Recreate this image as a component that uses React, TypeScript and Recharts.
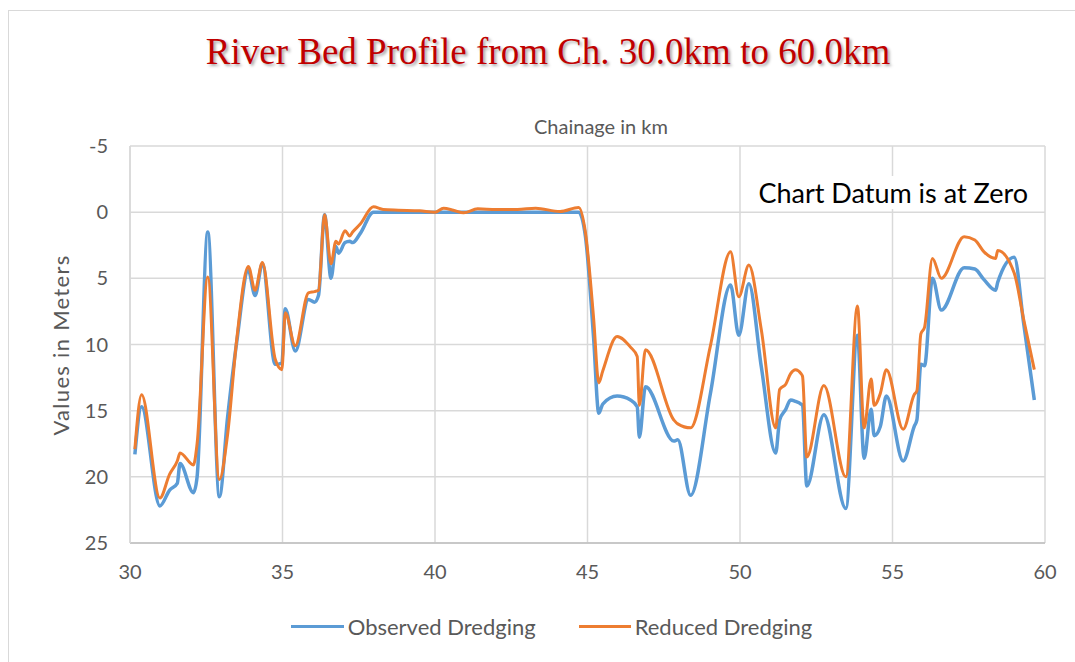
import React from "react";
import { LineChart, Line, XAxis, YAxis, CartesianGrid } from "recharts";

const chainage = [
  30.16, 30.38, 30.98, 31.3, 31.55, 31.64, 32.08, 32.2, 32.55, 32.93, 33.2, 33.5, 33.88, 34.1, 34.34,
  34.76, 34.98, 35.09, 35.42, 35.85, 36.05, 36.18, 36.38, 36.59, 36.75, 36.84, 37.05, 37.2, 37.3, 37.55,
  37.98, 38.3, 38.8, 39.5, 40.0, 40.28, 40.6, 40.94, 41.4, 42.0, 42.7, 43.3, 44.1, 44.71, 44.93,
  45.2, 45.37, 45.5, 45.97, 46.41, 46.63, 46.7, 46.9, 47.83, 47.96, 48.38, 49.03, 49.69, 49.96, 50.29,
  50.7, 51.17, 51.3, 51.5, 51.66, 51.82, 52.0, 52.05, 52.19, 52.75, 53.47, 53.85, 54.07, 54.3, 54.4,
  54.6, 54.8, 55.35, 55.71, 55.8, 55.93, 56.05, 56.31, 56.6, 57.35, 57.7, 58.0, 58.38, 58.45, 58.99,
  59.3, 59.65,
];

const observedDredging = [
  18.3, 14.7, 22.2, 21.0, 20.5, 19.0, 21.2, 20.0, 1.5, 21.5, 15.5, 9.8, 4.4, 6.3, 3.9,
  11.5, 11.4, 7.3, 10.5, 6.6, 6.8, 6.3, 0.2, 5.0, 2.6, 3.1, 2.3, 2.2, 2.3, 1.6,
  0.0, 0.0, 0.0, 0.0, 0.0, 0.0, 0.0, 0.0, 0.0, 0.0, 0.0, 0.0, 0.0, 0.0, 1.8,
  9.5, 15.2, 14.5, 13.9, 14.2, 14.7, 17.0, 13.2, 17.3, 17.2, 21.4, 13.7, 5.5, 9.3, 5.4,
  11.7, 18.2, 15.7, 14.9, 14.2, 14.3, 14.5, 14.6, 20.7, 15.3, 22.4, 9.3, 18.6, 14.9, 16.9,
  16.2, 13.9, 18.8, 16.2, 15.7, 11.5, 11.6, 5.0, 7.4, 4.2, 4.3, 5.1, 5.9, 5.3, 3.4,
  8.4, 14.2,
];

const reducedDredging = [
  17.9, 13.8, 21.6, 19.8, 18.8, 18.2, 19.1, 17.5, 4.9, 20.2, 16.8, 9.6, 4.1, 5.9, 3.8,
  11.1, 11.9, 7.6, 10.1, 6.1, 6.0, 5.9, 0.2, 3.9, 2.2, 2.4, 1.4, 1.8, 1.5, 0.9,
  -0.4, -0.2, -0.15, -0.1, 0.0, -0.3, -0.15, 0.05, -0.25, -0.2, -0.2, -0.3, -0.05, -0.35, 1.5,
  8.0, 12.9, 12.0, 9.4, 10.2, 10.9, 14.6, 10.4, 15.7, 16.0, 16.3, 10.1, 3.0, 6.4, 4.0,
  8.9, 16.3, 13.4, 13.0, 12.2, 11.9, 12.2, 12.4, 18.5, 13.1, 20.0, 7.1, 16.3, 12.6, 14.6,
  13.7, 11.9, 16.4, 13.8, 13.5, 9.2, 8.7, 3.5, 5.0, 1.85, 2.1, 3.0, 3.5, 2.9, 4.6,
  8.1, 11.9,
];

const xTicks = [30, 35, 40, 45, 50, 55, 60];
const yTicks = [-5, 0, 5, 10, 15, 20, 25];

const data = chainage.map((x, i) => ({
  x,
  observed: observedDredging[i],
  reduced: reducedDredging[i],
}));

const FONT = "Lato, 'Open Sans', sans-serif";
const GRAY = "#595959";

export default function App() {
  return (
    <div style={{ position: "fixed", left: 0, top: 0, width: 1075, height: 662, background: "#fff", overflow: "hidden" }}>
      <div style={{ position: "absolute", left: 8, top: 10, width: 1100, height: 700, border: "1px solid #D9D9D9", boxSizing: "border-box" }} />
      <div
        style={{
          position: "absolute",
          left: 0,
          width: 1096,
          top: 30,
          textAlign: "center",
          fontFamily: "'Liberation Serif', 'Times New Roman', serif",
          fontSize: 37,
          color: "#C00000",
          textShadow: "2px 2px 3px rgba(0,0,0,0.35)",
          whiteSpace: "nowrap",
        }}
      >
        River Bed Profile from Ch. 30.0km to 60.0km
      </div>
      <div
        style={{
          position: "absolute",
          left: 0,
          width: 1202,
          top: 114,
          textAlign: "center",
          fontFamily: FONT,
          fontSize: 20,
          color: GRAY,
          whiteSpace: "nowrap",
        }}
      >
        Chainage in km
      </div>
      <div style={{ position: "absolute", left: 0, top: 0 }}>
        <LineChart width={1075} height={662} data={data} margin={{ top: 146, right: 30, bottom: 89, left: 70 }}>
          <CartesianGrid stroke="#D9D9D9" strokeWidth={1.5} />
          <XAxis
            dataKey="x"
            type="number"
            domain={[30, 60]}
            ticks={xTicks}
            allowDataOverflow
            tickLine={false}
            tickSize={0}
            tickMargin={22}
            axisLine={{ stroke: "#BFBFBF", strokeWidth: 1.5 }}
            tick={{ fill: GRAY, fontSize: 20, fontFamily: FONT }}
          />
          <YAxis
            type="number"
            reversed
            domain={[-5, 25]}
            ticks={yTicks}
            allowDataOverflow
            tickLine={false}
            tickSize={0}
            tickMargin={22}
            axisLine={{ stroke: "#D9D9D9", strokeWidth: 1.5 }}
            tick={{ fill: GRAY, fontSize: 20, fontFamily: FONT }}
          />
          <Line
            type="monotone"
            dataKey="observed"
            stroke="#5B9BD5"
            strokeWidth={3.5}
            dot={false}
            isAnimationActive={false}
          />
          <Line
            type="monotone"
            dataKey="reduced"
            stroke="#ED7D31"
            strokeWidth={3}
            dot={false}
            isAnimationActive={false}
          />
        </LineChart>
      </div>
      <div
        style={{
          position: "absolute",
          right: 1075 - 1030,
          top: 176,
          fontFamily: FONT,
          fontSize: 27,
          color: "#000",
          whiteSpace: "nowrap",
          background: "#fff",
          padding: "0 2px",
        }}
      >
        Chart Datum is at Zero
      </div>
      <div
        style={{
          position: "absolute",
          left: 60,
          top: 345,
          transform: "translate(-50%, -50%) rotate(-90deg)",
          fontFamily: FONT,
          fontSize: 22,
          letterSpacing: 1.3,
          color: GRAY,
          whiteSpace: "nowrap",
        }}
      >
        Values in Meters
      </div>
      <div
        style={{
          position: "absolute",
          left: 0,
          width: 1103,
          top: 613,
          display: "flex",
          justifyContent: "center",
          alignItems: "center",
          fontFamily: FONT,
          fontSize: 22,
          color: GRAY,
          whiteSpace: "nowrap",
        }}
      >
        <span style={{ display: "inline-block", width: 53, height: 3.5, background: "#5B9BD5", marginRight: 4 }} />
        <span>Observed Dredging</span>
        <span style={{ display: "inline-block", width: 52, height: 3, background: "#ED7D31", marginLeft: 43, marginRight: 4 }} />
        <span>Reduced Dredging</span>
      </div>
    </div>
  );
}
